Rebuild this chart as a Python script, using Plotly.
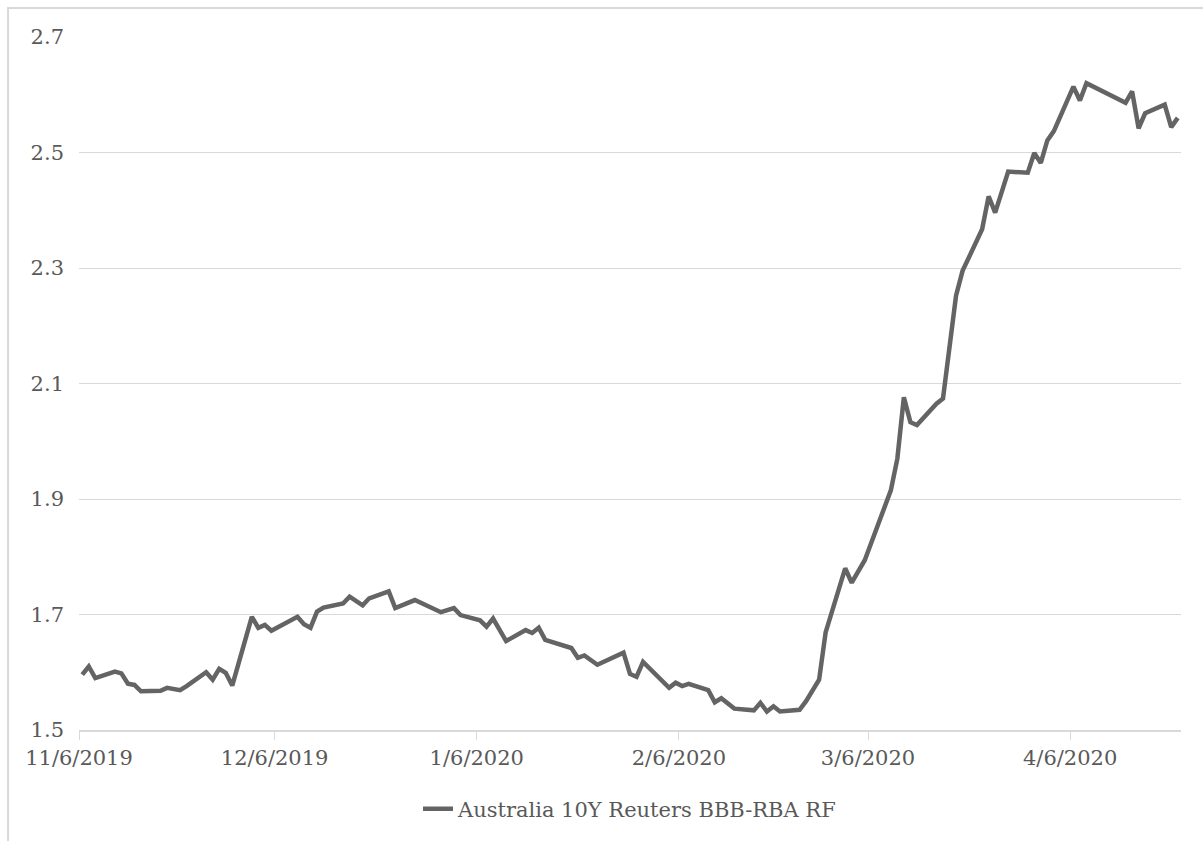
import pandas as pd
import plotly.graph_objects as go

# Daily spread readings (business days)
dates = [
    "2019-11-06", "2019-11-07", "2019-11-08", "2019-11-11", "2019-11-12", "2019-11-13",
    "2019-11-14", "2019-11-15", "2019-11-18", "2019-11-19", "2019-11-21", "2019-11-22",
    "2019-11-25", "2019-11-26", "2019-11-27", "2019-11-28", "2019-11-29", "2019-12-02",
    "2019-12-03", "2019-12-04", "2019-12-05", "2019-12-09", "2019-12-10", "2019-12-11",
    "2019-12-12", "2019-12-13", "2019-12-16", "2019-12-17", "2019-12-19", "2019-12-20",
    "2019-12-23", "2019-12-24", "2019-12-27", "2019-12-31", "2020-01-02", "2020-01-03",
    "2020-01-06", "2020-01-07", "2020-01-08", "2020-01-10", "2020-01-13", "2020-01-14",
    "2020-01-15", "2020-01-16", "2020-01-20", "2020-01-21", "2020-01-22", "2020-01-24",
    "2020-01-28", "2020-01-29", "2020-01-30", "2020-01-31", "2020-02-04", "2020-02-05",
    "2020-02-06", "2020-02-07", "2020-02-10", "2020-02-11", "2020-02-12", "2020-02-14",
    "2020-02-17", "2020-02-18", "2020-02-19", "2020-02-20", "2020-02-21", "2020-02-24",
    "2020-02-25", "2020-02-27", "2020-02-28", "2020-03-02", "2020-03-03", "2020-03-05",
    "2020-03-09", "2020-03-10", "2020-03-11", "2020-03-12", "2020-03-13", "2020-03-16",
    "2020-03-17", "2020-03-19", "2020-03-20", "2020-03-23", "2020-03-24", "2020-03-25",
    "2020-03-27", "2020-03-30", "2020-03-31", "2020-04-01", "2020-04-02", "2020-04-03",
    "2020-04-06", "2020-04-07", "2020-04-08", "2020-04-14", "2020-04-15", "2020-04-16",
    "2020-04-17", "2020-04-20", "2020-04-21", "2020-04-22",
]

spread = [
    1.596, 1.610, 1.590, 1.601, 1.598, 1.580,
    1.578, 1.567, 1.568, 1.573, 1.569, 1.576,
    1.600, 1.587, 1.606, 1.599, 1.577, 1.696,
    1.677, 1.682, 1.672, 1.696, 1.683, 1.677,
    1.705, 1.712, 1.719, 1.731, 1.716, 1.728,
    1.740, 1.711, 1.725, 1.704, 1.711, 1.699,
    1.690, 1.679, 1.693, 1.654, 1.673, 1.668,
    1.677, 1.656, 1.642, 1.625, 1.629, 1.613,
    1.634, 1.597, 1.592, 1.618, 1.573, 1.582,
    1.576, 1.580, 1.569, 1.548, 1.555, 1.537,
    1.534, 1.547, 1.532, 1.541, 1.532, 1.535,
    1.550, 1.587, 1.669, 1.780, 1.755, 1.794,
    1.915, 1.970, 2.076, 2.033, 2.028, 2.065,
    2.074, 2.252, 2.295, 2.367, 2.424, 2.396,
    2.467, 2.465, 2.499, 2.482, 2.521, 2.537,
    2.614, 2.590, 2.620, 2.586, 2.606, 2.542,
    2.568, 2.583, 2.544, 2.560,
]

series_name = "Australia 10Y Reuters BBB-RBA RF"

tick_dates = ["2019-11-06", "2019-12-06", "2020-01-06", "2020-02-06", "2020-03-06", "2020-04-06"]
tick_labels = ["11/6/2019", "12/6/2019", "1/6/2020", "2/6/2020", "3/6/2020", "4/6/2020"]

FONT = "DejaVu Serif"
TEXT = "#595959"
GRID = "#d9d9d9"

# each point sits in the middle of its day slot on the date axis
x = pd.to_datetime(dates) + pd.Timedelta(hours=12)

fig = go.Figure()
fig.add_trace(go.Scatter(
    x=x, y=spread, mode="lines", name=series_name,
    line=dict(color="#646464", width=4.5),
    showlegend=True,
))

fig.update_layout(
    width=1203, height=841,
    margin=dict(l=79, r=22, t=37, b=109),
    paper_bgcolor="white", plot_bgcolor="white",
    font=dict(family=FONT, size=21, color=TEXT),
    hovermode=False,
    legend=dict(
        orientation="h", x=0.5, xanchor="center", y=-0.114, yanchor="middle",
        font=dict(family=FONT, size=21, color=TEXT),
        bgcolor="rgba(0,0,0,0)",
    ),
    xaxis=dict(
        type="date",
        range=["2019-11-06", "2020-04-23"],
        tickvals=tick_dates, ticktext=tick_labels,
        showgrid=False, zeroline=False,
        showline=True, linecolor=GRID, linewidth=2,
        ticks="outside", ticklen=8, tickcolor=GRID, tickwidth=1,
        tickfont=dict(family=FONT, size=21, color=TEXT),
    ),
    yaxis=dict(
        range=[1.5, 2.7], dtick=0.2, tick0=1.5, tickformat=".1f",
        showgrid=True, gridcolor=GRID, gridwidth=1,
        zeroline=False, showline=False,
        ticks="", ticklabelstandoff=14,
        tickfont=dict(family=FONT, size=21, color=TEXT),
    ),
    # chart frame; its right and bottom edges run past the page
    shapes=[dict(
        type="rect", xref="paper", yref="paper",
        x0=-0.0644, x1=1.04, y0=-0.25, y1=1.0417,
        line=dict(color="#d9d9d9", width=2), layer="below",
    )],
)

fig.write_html("out.html")
